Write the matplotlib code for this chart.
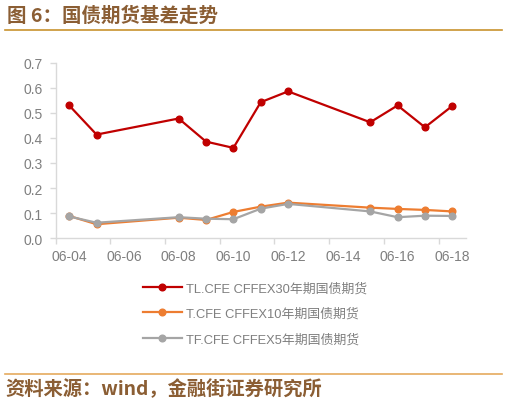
import matplotlib
matplotlib.use("Agg")
import matplotlib.pyplot as plt
from matplotlib.lines import Line2D

plt.rcParams['font.family'] = ['Liberation Sans', 'Noto Sans CJK SC', 'DejaVu Sans']

days = [4, 5, 8, 9, 10, 11, 12, 15, 16, 17, 18]
tl = [0.529, 0.413, 0.477, 0.385, 0.360, 0.542, 0.585, 0.462, 0.529, 0.442, 0.527]
t10 = [0.089, 0.056, 0.082, 0.073, 0.105, 0.126, 0.142, 0.122, 0.117, 0.113, 0.107]
tf5 = [0.087, 0.062, 0.084, 0.078, 0.076, 0.118, 0.137, 0.107, 0.084, 0.090, 0.089]
labels = ["TL.CFE CFFEX30年期国债期货", "T.CFE CFFEX10年期国债期货", "TF.CFE CFFEX5年期国债期货"]
colors = ["#C00000", "#ED7D31", "#A5A5A5"]
xtick_days = [4, 6, 8, 10, 12, 14, 16, 18]
xtick_labels = ["06-04", "06-06", "06-08", "06-10", "06-12", "06-14", "06-16", "06-18"]
yticks = [0.0, 0.1, 0.2, 0.3, 0.4, 0.5, 0.6, 0.7]

W, H = 508, 406
fig = plt.figure(figsize=(W / 100, H / 100), dpi=100)

ax = fig.add_axes([55.5 / W, 1 - 239.3 / H, (466 - 55.5) / W, (239.3 - 63.5) / H])
for vals, c in zip([tl, t10, tf5], colors):
    ax.plot(days, vals, color=c, lw=1.6, marker='o', ms=4.8, mew=1, markeredgecolor=c)

ax.set_xlim(3.5, 18.5)
ax.set_ylim(0, 0.7)
ax.set_yticks(yticks)
ax.set_yticklabels([f"{v:.1f}" for v in yticks])
ax.set_xticks(xtick_days)
ax.set_xticklabels(xtick_labels)
ax.set_xticks([d - 0.5 for d in xtick_days], minor=True)
ax.tick_params(axis='x', which='major', length=0, pad=8)
ax.tick_params(axis='x', which='minor', length=4, color='#D9D9D9', width=1)
ax.tick_params(axis='y', length=4, color='#D9D9D9', width=1, pad=5)
ax.tick_params(labelsize=10, labelcolor='#7F7F7F')
for s in ['top', 'right']:
    ax.spines[s].set_visible(False)
for s in ['left', 'bottom']:
    ax.spines[s].set_color('#D9D9D9')
    ax.spines[s].set_linewidth(1)

handles = [Line2D([0], [0], color=c, lw=1.6, marker='o', ms=4.8, mew=1, markeredgecolor=c) for c in colors]
leg = fig.legend(handles, labels, loc='upper left', bbox_to_anchor=(131 / W, 1 - 271 / H),
                 frameon=False, fontsize=9.3, labelcolor='#7F7F7F', handlelength=3.05,
                 handletextpad=0.3, labelspacing=1.02)

# title and source
fig.text(7 / W, 1 - 16 / H, "图 6：国债期货基差走势", fontsize=14, fontweight='bold',
         color='#8B5E34', va='center', ha='left', family=['Noto Sans CJK SC', 'DejaVu Sans'])
fig.add_artist(Line2D([5 / W, 502 / W], [1 - 30.5 / H, 1 - 30.5 / H], color='#C8922E', lw=1.2))
fig.add_artist(Line2D([5 / W, 502 / W], [1 - 374.5 / H, 1 - 374.5 / H], color='#E5AA5E', lw=1.2))
fig.text(5 / W, 1 - 389 / H, "资料来源：wind，金融街证券研究所", fontsize=13.9, fontweight='bold',
         color='#8B5E34', va='center', ha='left', family=['Noto Sans CJK SC', 'DejaVu Sans'])

fig.savefig("out.png", dpi=100)
